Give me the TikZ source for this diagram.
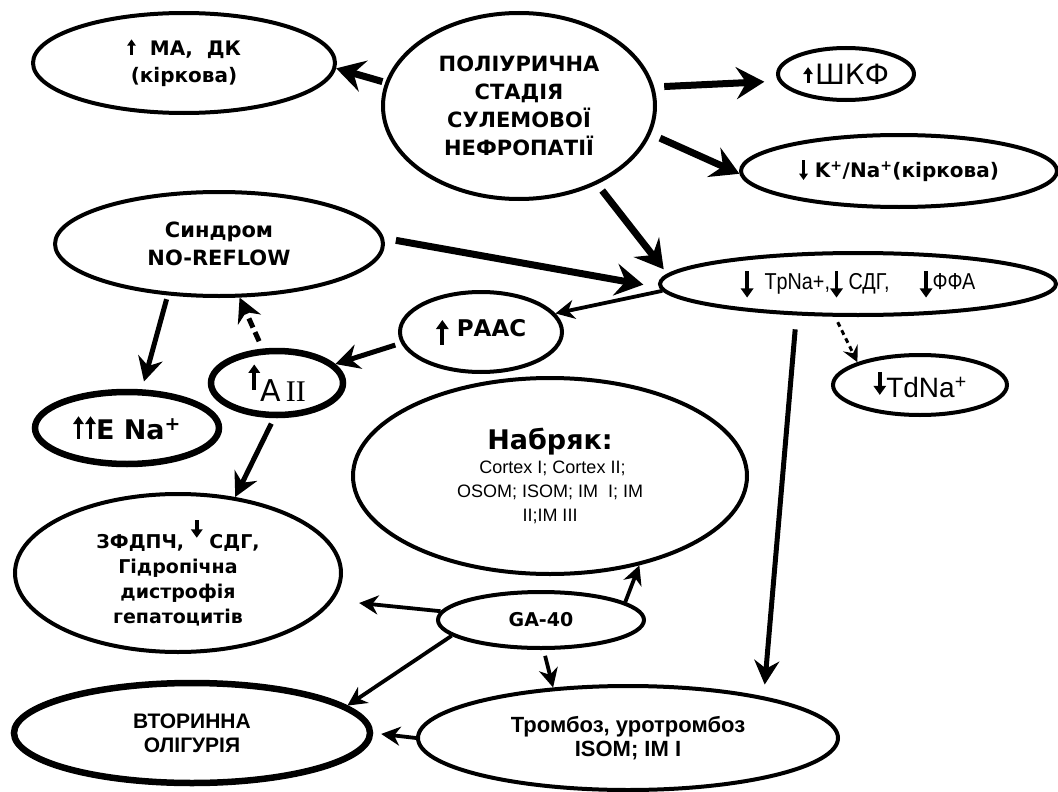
\documentclass[tikz,border=0pt]{standalone}
\usepackage{fontspec}
\setmainfont{DejaVu Sans}
\newfontfamily\lbs{Liberation Sans}
\newfontfamily\lbsn[FakeStretch=0.86]{Liberation Sans}
\newfontfamily\lbserif{Liberation Serif}
\usetikzlibrary{shapes.geometric,arrows.meta}
% small filled arrow glyphs: #1 height, #2 head width
\newcommand\arrU[2]{\tikz[baseline=0pt,x=1pt,y=1pt]{\fill (-0.15*#2,0) rectangle (0.15*#2,#1-0.55*#2); \fill (-0.5*#2,#1-0.7*#2) -- (0,#1) -- (0.5*#2,#1-0.7*#2) -- cycle;}}
\newcommand\arrD[2]{\tikz[baseline=0pt,x=1pt,y=1pt]{\fill (-0.15*#2,#1) rectangle (0.15*#2,0.55*#2); \fill (-0.5*#2,0.7*#2) -- (0,0) -- (0.5*#2,0.7*#2) -- cycle;}}
\tikzset{
  ell/.style={ellipse, draw, line width=4pt, inner sep=0pt, align=center},
  ellthick/.style={ell, line width=6.5pt},
  bigarr/.style={line width=7pt, -{Stealth[length=28pt,width=32pt,inset=10pt]}},
  medarr/.style={line width=5pt, -{Stealth[length=24pt,width=25pt,inset=8pt]}},
  thinarr/.style={line width=3.8pt, -{Stealth[length=19pt,width=19pt,inset=6pt]}},
}
\begin{document}
\begin{tikzpicture}[x=1pt,y=-1pt]
\fill[white] (0,0) rectangle (1058,792);
\useasboundingbox (0,0) rectangle (1058,792);

% nodes
\node[ell, minimum width=302pt, minimum height=100pt,
      font=\bfseries\fontsize{20}{27}\selectfont] (ma) at (184,63)
      {\arrU{16}{9}\ \ МА,\ \ ДК\\(кіркова)};
\node[ell, minimum width=272pt, minimum height=186pt,
      font=\bfseries\fontsize{21}{26}\selectfont] (main) at (519,106)
      {ПОЛІУРИЧНА\\[2pt]СТАДІЯ\\[2pt]СУЛЕМОВОЇ\\[2pt]НЕФРОПАТІЇ};
\node[ell, minimum width=136pt, minimum height=52pt,
      font=\fontsize{28}{30}\selectfont] (shkf) at (846,74)
      {\raisebox{1pt}{\arrU{16}{10}}\hspace{2pt}ШКФ};
\node[ell, minimum width=316pt, minimum height=72pt,
      font=\bfseries\fontsize{20}{24}\selectfont] (kna) at (899,171)
      {\raisebox{-2pt}{\arrD{20}{9}}\ K\textsuperscript{+}/Na\textsuperscript{+}(кіркова)};
\node[ell, minimum width=328pt, minimum height=104pt,
      font=\bfseries\fontsize{21}{28}\selectfont] (syn) at (219,244)
      {Синдром\\NO-REFLOW};
\node[ell, minimum width=396pt, minimum height=62pt,
      font=\lbsn\fontsize{23}{25}\selectfont] (tpna) at (858,284)
      {\raisebox{-8pt}{\arrD{27}{13}}\ \ TpNa+,\raisebox{-8pt}{\arrD{27}{13}}\ СДГ,\hspace{30pt}\raisebox{-8pt}{\arrD{27}{13}}ФФА};
\node[ell, minimum width=162pt, minimum height=80pt,
      font=\bfseries\fontsize{23}{25}\selectfont] (raas) at (481,332)
      {\raisebox{-9pt}{\arrU{25}{13}}\ РААС};
\node[ellthick, minimum width=132pt, minimum height=64pt] (a2) at (277,383)
      {\raisebox{12pt}{\arrU{25}{12}}{\fontsize{30}{32}\selectfont A\,}{\lbserif\fontsize{30}{32}\selectfont II}};
\node[ellthick, minimum width=184pt, minimum height=72pt,
      font=\bfseries\fontsize{27}{30}\selectfont] (ena) at (127,428)
      {\arrU{23}{11}\hspace{1pt}\arrU{23}{11}E Na\textsuperscript{+}};
\node[ell, minimum width=174pt, minimum height=60pt,
      font=\lbs\fontsize{28}{30}\selectfont] (tdna) at (920,385)
      {\raisebox{3pt}{\arrD{23}{13}}TdNa\textsuperscript{+}};
\node[ell, minimum width=394pt, minimum height=196pt,
      font=\lbs\fontsize{18}{24}\selectfont] (nab) at (550,476)
      {{\rmfamily\bfseries\fontsize{27}{30}\selectfont Набряк:}\\\ Cortex I; Cortex II;\\OSOM; ISOM; IM\ \ I; IM\\II;IM III};
\node[ell, minimum width=326pt, minimum height=158pt,
      font=\bfseries\fontsize{19}{25}\selectfont] (zf) at (178,573)
      {ЗФДПЧ, \raisebox{11pt}{\arrD{18}{12}} СДГ,\\Гідропічна\\дистрофія\\гепатоцитів};
\node[ell, minimum width=206pt, minimum height=56pt,
      font=\bfseries\fontsize{19}{22}\selectfont] (ga) at (541,620) {GA-40};
\node[ell, minimum width=420pt, minimum height=104pt,
      font=\lbs\bfseries\fontsize{22}{24}\selectfont] (tromb) at (628,738)
      {Тромбоз, уротромбоз\\ISOM; IM I};
\node[ellthick, minimum width=356pt, minimum height=100pt,
      font=\lbs\bfseries\fontsize{21}{24}\selectfont] (vto) at (192,733)
      {ВТОРИННА\\ОЛІГУРІЯ};

% connectors
\draw[bigarr, shorten <=3pt] (main.170) -- (ma.358);
\draw[bigarr, shorten <=10pt, shorten >=14pt] (main.8) -- (shkf.186);
\draw[bigarr, shorten <=10pt] (main.-12) -- (kna.181);
\draw[bigarr, shorten <=8pt, shorten >=6pt] (main.-45) -- (tpna.177);
\draw[bigarr, shorten <=12pt, shorten >=16pt] (syn.2) -- (tpna.181);
\draw[thinarr] (tpna.182) -- (raas.14);
\draw[medarr, shorten <=6pt] (raas.188) -- (a2.18);
\draw[medarr, shorten <=4pt, shorten >=8pt] (syn.-135) -- (ena.69);
\draw[medarr, dash pattern=on 10pt off 5pt, shorten <=8pt] (a2.113) -- (syn.291);
\draw[medarr, shorten <=6pt] (a2.265) -- (zf.53);
\draw[line width=3pt, dash pattern=on 5pt off 4pt, -{Stealth[length=16pt,width=16pt,inset=6pt]}, shorten <=6pt] (tpna.235) -- (tdna.160);
\draw[medarr, shorten <=14pt, shorten >=12pt] (tpna.207) -- (tromb.17);
\draw[thinarr] (ga.12) -- (nab.315);
\draw[thinarr, shorten <=6pt] (ga.275) -- (tromb.146);
\draw[thinarr, shorten >=26pt] (ga.175) -- (zf.350);
\draw[thinarr] (ga.190) -- (vto.10);
\draw[thinarr, shorten >=8pt] (tromb.west) -- (vto.east);
\end{tikzpicture}
\end{document}
